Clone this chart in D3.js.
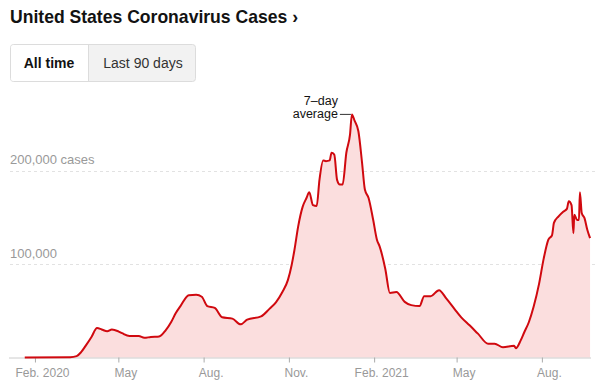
<!DOCTYPE html>
<html>
<head>
  <script src="https://cdn.jsdelivr.net/npm/d3@7"></script>
  <style>
    body { margin: 0; background: #fff; }
    text { font-family: "Liberation Sans", Arial, sans-serif; }
  </style>
</head>
<body>
  <script>

  var width = 600
  var height = 389

  // 7-day average of new cases
  var dates = ["2020-01-21","2020-03-10","2020-03-17","2020-03-22","2020-03-27","2020-04-02","2020-04-08",
    "2020-04-13","2020-04-19","2020-04-24","2020-05-01","2020-05-05","2020-05-13","2020-05-23","2020-05-29",
    "2020-06-05","2020-06-14","2020-06-21","2020-06-27","2020-07-02","2020-07-07","2020-07-16","2020-07-24",
    "2020-07-30","2020-08-05","2020-08-13","2020-08-21","2020-09-01","2020-09-10","2020-09-17","2020-10-02",
    "2020-10-11","2020-10-18","2020-10-25","2020-10-31","2020-11-04","2020-11-07","2020-11-11","2020-11-16",
    "2020-11-20","2020-11-23","2020-11-27","2020-12-01","2020-12-04","2020-12-08","2020-12-11","2020-12-15",
    "2020-12-17","2020-12-20","2020-12-23","2020-12-26","2020-12-29","2021-01-02","2021-01-06","2021-01-08",
    "2021-01-11","2021-01-15","2021-01-19","2021-01-22","2021-01-26","2021-01-31","2021-02-04","2021-02-07",
    "2021-02-13","2021-02-18","2021-02-25","2021-03-06","2021-03-13","2021-03-22","2021-03-27","2021-04-03",
    "2021-04-12","2021-04-20","2021-04-29","2021-05-06","2021-05-15","2021-05-24","2021-06-04","2021-06-11",
    "2021-06-20","2021-07-02","2021-07-04","2021-07-09","2021-07-13","2021-07-18","2021-07-23","2021-07-29",
    "2021-08-03","2021-08-08","2021-08-12","2021-08-14","2021-08-19","2021-08-24","2021-08-28","2021-08-30",
    "2021-09-02","2021-09-04","2021-09-05","2021-09-08","2021-09-10","2021-09-11","2021-09-13","2021-09-16",
    "2021-09-19","2021-09-22"];
  var cases = [0,300,1500,6000,13000,22000,31500,
    30000,28000,30000,28000,26000,23000,23000,21000,
    22000,22500,29000,38000,47600,55000,66700,67000,
    65000,55000,53000,43000,41600,35500,40500,44000,
    52000,59000,70000,83000,99000,115000,140000,161600,
    170600,176700,163000,162000,190000,210800,210000,210800,
    219000,217000,190000,185000,185000,219000,238700,260000,
    253000,242000,208000,179600,170600,147000,126000,118600,
    95000,69000,70000,59500,56000,55000,65600,65600,
    72000,63000,51600,43000,34400,25500,14700,14700,
    11000,12500,10000,18000,27000,38000,54000,79000,
    106000,126000,131000,144000,151000,156000,159000,167000,
    163000,133000,152700,147000,147000,176700,154500,149000,
    136600,127600];

  var tickDates = ["2020-02-01","2020-05-01","2020-08-01","2020-11-01","2021-02-01","2021-05-01","2021-08-01"];
  var tickLabels = ["Feb. 2020","May","Aug.","Nov.","Feb. 2021","May","Aug."];
  var gridValues = [100000, 200000];
  var gridLabels = ["100,000", "200,000 cases"];

  var parse = d3.timeParse("%Y-%m-%d");
  var data = dates.map(function(d, i) { return { date: parse(d), value: cases[i] }; });

  var x = d3.scaleTime()
    .domain([parse("2020-01-04"), parse("2021-09-23")])
    .range([9, 591]);
  var y = d3.scaleLinear()
    .domain([0, 200000])
    .range([357.5, 170.5]);

  var svg = d3.select("body").append("svg")
    .attr("width", width)
    .attr("height", height);

  // title
  svg.append("text")
    .attr("x", 10).attr("y", 23)
    .attr("font-size", 19).attr("font-weight", "bold")
    .attr("fill", "#121212")
    .attr("textLength", 288).attr("lengthAdjust", "spacingAndGlyphs")
    .text("United States Coronavirus Cases \u203A");

  // toggle buttons
  var btn = svg.append("g");
  btn.append("rect")
    .attr("x", 10.5).attr("y", 44.5).attr("width", 185).attr("height", 37).attr("rx", 3)
    .attr("fill", "#f2f2f2").attr("stroke", "#dcdcdc");
  btn.append("path")
    .attr("d", "M88,45 H13.5 Q11,45 11,47.5 V78.5 Q11,81 13.5,81 H88 Z")
    .attr("fill", "#fff");
  btn.append("line")
    .attr("x1", 88.5).attr("x2", 88.5).attr("y1", 45).attr("y2", 81)
    .attr("stroke", "#dcdcdc");
  btn.append("text")
    .attr("x", 49).attr("y", 67.5).attr("text-anchor", "middle")
    .attr("font-size", 14).attr("font-weight", "bold").attr("fill", "#121212")
    .text("All time");
  btn.append("text")
    .attr("x", 143).attr("y", 67.5).attr("text-anchor", "middle")
    .attr("font-size", 14).attr("fill", "#333")
    .text("Last 90 days");

  // gridlines
  var grid = svg.append("g");
  grid.selectAll("line")
    .data(gridValues).enter()
    .append("line")
    .attr("x1", 10).attr("x2", 597)
    .attr("y1", function(d) { return Math.round(y(d)) + 0.5; })
    .attr("y2", function(d) { return Math.round(y(d)) + 0.5; })
    .attr("stroke", "#e2e2e2")
    .attr("stroke-dasharray", "3,3");
  grid.selectAll("text")
    .data(gridValues).enter()
    .append("text")
    .attr("x", 10)
    .attr("y", function(d) { return y(d) - 6.5; })
    .attr("font-size", 13).attr("fill", "#999")
    .text(function(d, i) { return gridLabels[i]; });

  // area + line
  var area = d3.area()
    .curve(d3.curveMonotoneX)
    .x(function(d) { return x(d.date); })
    .y0(y(0))
    .y1(function(d) { return y(d.value); });
  var line = d3.line()
    .curve(d3.curveMonotoneX)
    .x(function(d) { return x(d.date); })
    .y(function(d) { return y(d.value); });

  // fill runs from the axis start
  var areaData = [{ date: x.domain()[0], value: 0 }].concat(data);
  svg.append("path")
    .datum(areaData)
    .attr("d", area)
    .attr("fill", "#fbdede");

  // x axis
  var xAxis = d3.axisBottom(x)
    .tickValues(tickDates.map(parse))
    .tickSize(5)
    .tickPadding(6)
    .tickFormat(function(d, i) { return tickLabels[i]; });
  var ax = svg.append("g")
    .attr("transform", "translate(0," + y(0) + ")")
    .call(xAxis);
  ax.select(".domain").attr("stroke", "#ccc").attr("d", "M" + x.range()[0] + ",0.5H" + x.range()[1]);
  ax.selectAll(".tick line").attr("stroke", "#aaa");
  ax.selectAll(".tick text")
    .attr("dx", 7)
    .attr("font-size", 12).attr("fill", "#999")
    .attr("font-family", "Liberation Sans, Arial, sans-serif");

  svg.append("path")
    .datum(data)
    .attr("d", line)
    .attr("fill", "none")
    .attr("stroke", "#d0090f")
    .attr("stroke-width", 2)
    .attr("stroke-linejoin", "round");

  // annotation at the peak
  var peak = data.reduce(function(a, b) { return b.value > a.value ? b : a; });
  var px = x(peak.date), py = y(peak.value);
  svg.append("line")
    .attr("x1", px - 12).attr("x2", px - 1)
    .attr("y1", py).attr("y2", py)
    .attr("stroke", "#333").attr("stroke-width", 1);
  svg.append("text")
    .attr("x", px - 14).attr("y", py - 9).attr("text-anchor", "end")
    .attr("font-size", 12.5).attr("fill", "#121212")
    .text("7\u2013day");
  svg.append("text")
    .attr("x", px - 14).attr("y", py + 4).attr("text-anchor", "end")
    .attr("font-size", 12.5).attr("fill", "#121212")
    .text("average");

  </script>
</body>
</html>
